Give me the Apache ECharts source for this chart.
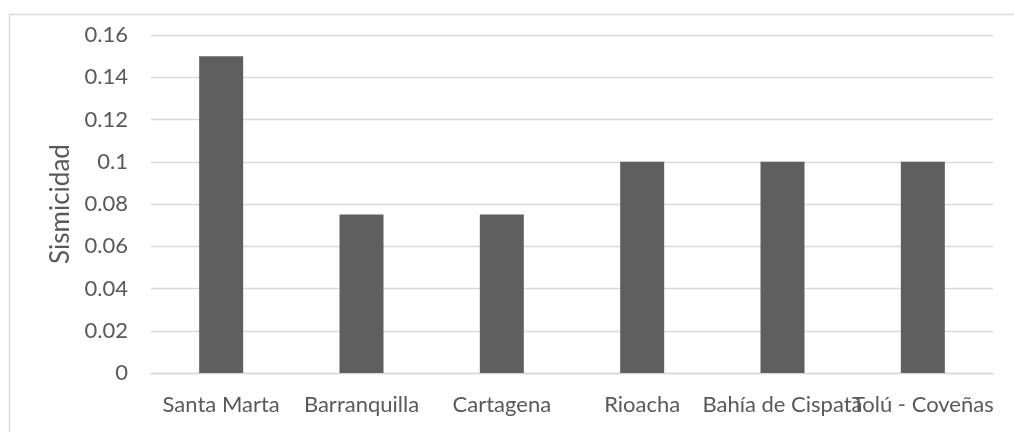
<!DOCTYPE html>
<html>
<head>
<meta charset="utf-8">
<script src="https://cdn.jsdelivr.net/npm/echarts@6/dist/echarts.min.js"></script>
<style>
  html, body { margin: 0; padding: 0; background: #ffffff; }
  #chart { width: 1014px; height: 432px; }
</style>
</head>
<body>
<div id="chart"></div>
<script>
// Seismicity by coastal city
const categories = ['Santa Marta', 'Barranquilla', 'Cartagena', 'Rioacha', 'Bahía de Cispatá', 'Tolú - Coveñas'];
const sismicidad = [0.15, 0.075, 0.075, 0.1, 0.1, 0.1];
const yAxisName = 'Sismicidad';

const FONT = 'Lato, "Open Sans", sans-serif';
const TEXT = '#595959';

const chart = echarts.init(document.getElementById('chart'));
chart.setOption({
  animation: false,
  backgroundColor: '#ffffff',
  graphic: [{
    type: 'rect',
    shape: { x: 9.5, y: 14.5, width: 1020, height: 440 },
    style: { fill: 'none', stroke: '#d9d9d9', lineWidth: 1.3 },
    silent: true
  }],
  grid: { left: 151, right: 21, top: 35, bottom: 59 },
  xAxis: {
    type: 'category',
    data: categories,
    axisLine: { show: true, lineStyle: { color: '#d9d9d9', width: 1.3 } },
    axisTick: { show: false },
    axisLabel: { color: TEXT, fontFamily: FONT, fontSize: 22, margin: 21, interval: 0, hideOverlap: false }
  },
  yAxis: {
    type: 'value',
    min: 0,
    max: 0.16,
    interval: 0.02,
    name: yAxisName,
    nameLocation: 'middle',
    nameGap: 76,
    nameRotate: 90,
    nameTextStyle: { color: TEXT, fontFamily: FONT, fontSize: 26 },
    axisLine: { show: false },
    axisTick: { show: false },
    splitLine: { lineStyle: { color: '#d9d9d9', width: 1.3 } },
    axisLabel: { color: TEXT, fontFamily: FONT, fontSize: 22, margin: 23 }
  },
  series: [{
    type: 'bar',
    data: sismicidad,
    barWidth: 44,
    itemStyle: { color: '#5f5f5f' }
  }]
});
</script>
</body>
</html>
